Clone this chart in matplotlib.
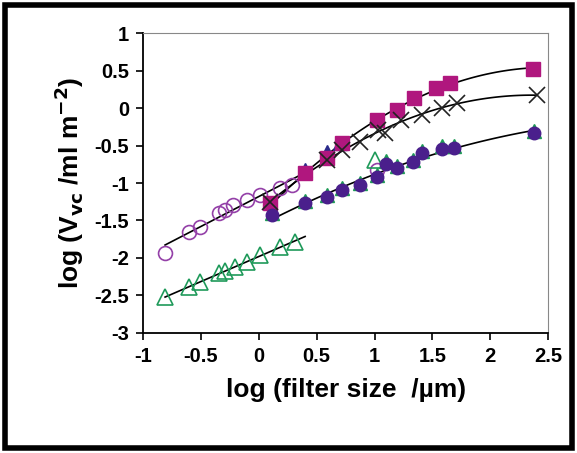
import matplotlib
matplotlib.use('Agg')
import matplotlib.pyplot as plt
import numpy as np
from matplotlib.patches import Rectangle
from matplotlib.font_manager import FontProperties

plt.rcParams['font.family'] = ['Liberation Sans', 'DejaVu Sans']
plt.rcParams['font.weight'] = 'bold'
plt.rcParams['mathtext.default'] = 'bf'
tickfont = FontProperties(family='Liberation Sans', weight='bold', size=14.5)

# open circles (purple)
oc_x = [-0.81, -0.6, -0.51, -0.34, -0.29, -0.22, -0.10, 0.01, 0.18, 0.29, 1.02]
oc_y = [-1.93, -1.65, -1.59, -1.40, -1.36, -1.29, -1.23, -1.16, -1.07, -1.03, -0.83]
# open triangles (green)
ot_x = [-0.81, -0.6, -0.51, -0.34, -0.29, -0.21, -0.10, 0.01, 0.18, 0.31, 1.0]
ot_y = [-2.52, -2.39, -2.32, -2.20, -2.18, -2.12, -2.05, -1.96, -1.85, -1.79, -0.69]
# filled squares (magenta)
sq_x = [0.1, 0.4, 0.59, 0.72, 1.02, 1.19, 1.34, 1.53, 1.65, 2.37]
sq_y = [-1.27, -0.87, -0.67, -0.47, -0.16, -0.03, 0.13, 0.27, 0.33, 0.52]
# crosses
cr_x = [0.1, 0.59, 0.72, 0.87, 1.03, 1.09, 1.23, 1.41, 1.58, 1.71, 2.4]
cr_y = [-1.25, -0.69, -0.56, -0.45, -0.29, -0.33, -0.16, -0.09, 0.0, 0.07, 0.17]
# navy triangles hidden under the squares
nt_x = [0.4, 0.59, 0.7]
nt_y = [-0.82, -0.58, -0.47]
# filled circles (dark purple) and filled triangles (green), lower curve
lo_x = [0.11, 0.40, 0.59, 0.72, 0.87, 1.02, 1.10, 1.19, 1.33, 1.41, 1.58, 1.69, 2.38]
lo_y = [-1.43, -1.27, -1.19, -1.09, -1.03, -0.92, -0.74, -0.80, -0.72, -0.60, -0.54, -0.53, -0.33]

xticks = ['-1', '-0.5', '0', '0.5', '1', '1.5', '2', '2.5']
yticks = ['-3', '-2.5', '-2', '-1.5', '-1', '-0.5', '0', '0.5', '1']

fig = plt.figure(figsize=(5.77, 4.53), dpi=100)
ax = fig.add_axes([0.248, 0.265, 0.702, 0.662])

# trend lines fitted to the points
def trend(xs, ys, deg, x0, x1):
    p = np.polyfit(xs, ys, deg)
    xx = np.linspace(x0, x1, 100)
    ax.plot(xx, np.polyval(p, xx), color='black', lw=1.2, zorder=2)

trend(oc_x[:-1], oc_y[:-1], 1, -0.81, 0.35)
trend(ot_x[:-1], ot_y[:-1], 1, -0.81, 0.40)
trend(sq_x, sq_y, 2, 0.1, 2.37)
trend(cr_x, cr_y, 2, 0.1, 2.4)
trend(lo_x, lo_y, 2, 0.11, 2.38)

ax.plot(nt_x, nt_y, '^', color='#2a2a8a', ms=10, zorder=3)
ax.plot(sq_x, sq_y, 's', color='#b0177e', ms=10, zorder=4)
ax.plot(cr_x, cr_y, 'x', color='#222222', ms=11, mew=1.2, zorder=5)
ax.plot(lo_x, [v + 0.03 for v in lo_y], '^', color='#1c9a55', ms=10, zorder=3)
ax.plot(lo_x, lo_y, 'o', color='#4a1f8c', ms=9, zorder=4)
ax.plot(oc_x, oc_y, 'o', mfc='none', mec='#9440a8', ms=10, mew=1.2, zorder=3)
ax.plot(ot_x, ot_y, '^', mfc='none', mec='#1f9a5a', ms=11, mew=1.2, zorder=3)

ax.set_xlim(-1, 2.5)
ax.set_ylim(-3, 1)
ax.tick_params(axis='both', direction='out', length=5, width=1.2, pad=5)
ax.set_xticks(np.arange(-1, 2.51, 0.5))
ax.set_yticks(np.arange(-3, 1.01, 0.5))
ax.set_xticklabels(xticks, fontproperties=tickfont)
ax.set_yticklabels(yticks, fontproperties=tickfont)
for s in ['top', 'right']:
    ax.spines[s].set_color('#888888')
for s in ['left', 'bottom']:
    ax.spines[s].set_linewidth(1.3)

ax.set_xlabel('log (filter size  /\u00b5m)', fontsize=19, fontweight='bold', labelpad=9)
ax.set_ylabel('log (V$_{vc}$ /ml m$^{-2}$)', fontsize=19, fontweight='bold', labelpad=6)

fig.patches.append(Rectangle((0.008, 0.012), 0.984, 0.976, transform=fig.transFigure,
                             fill=False, edgecolor='black', lw=4))

fig.savefig('out.png', dpi=100)
